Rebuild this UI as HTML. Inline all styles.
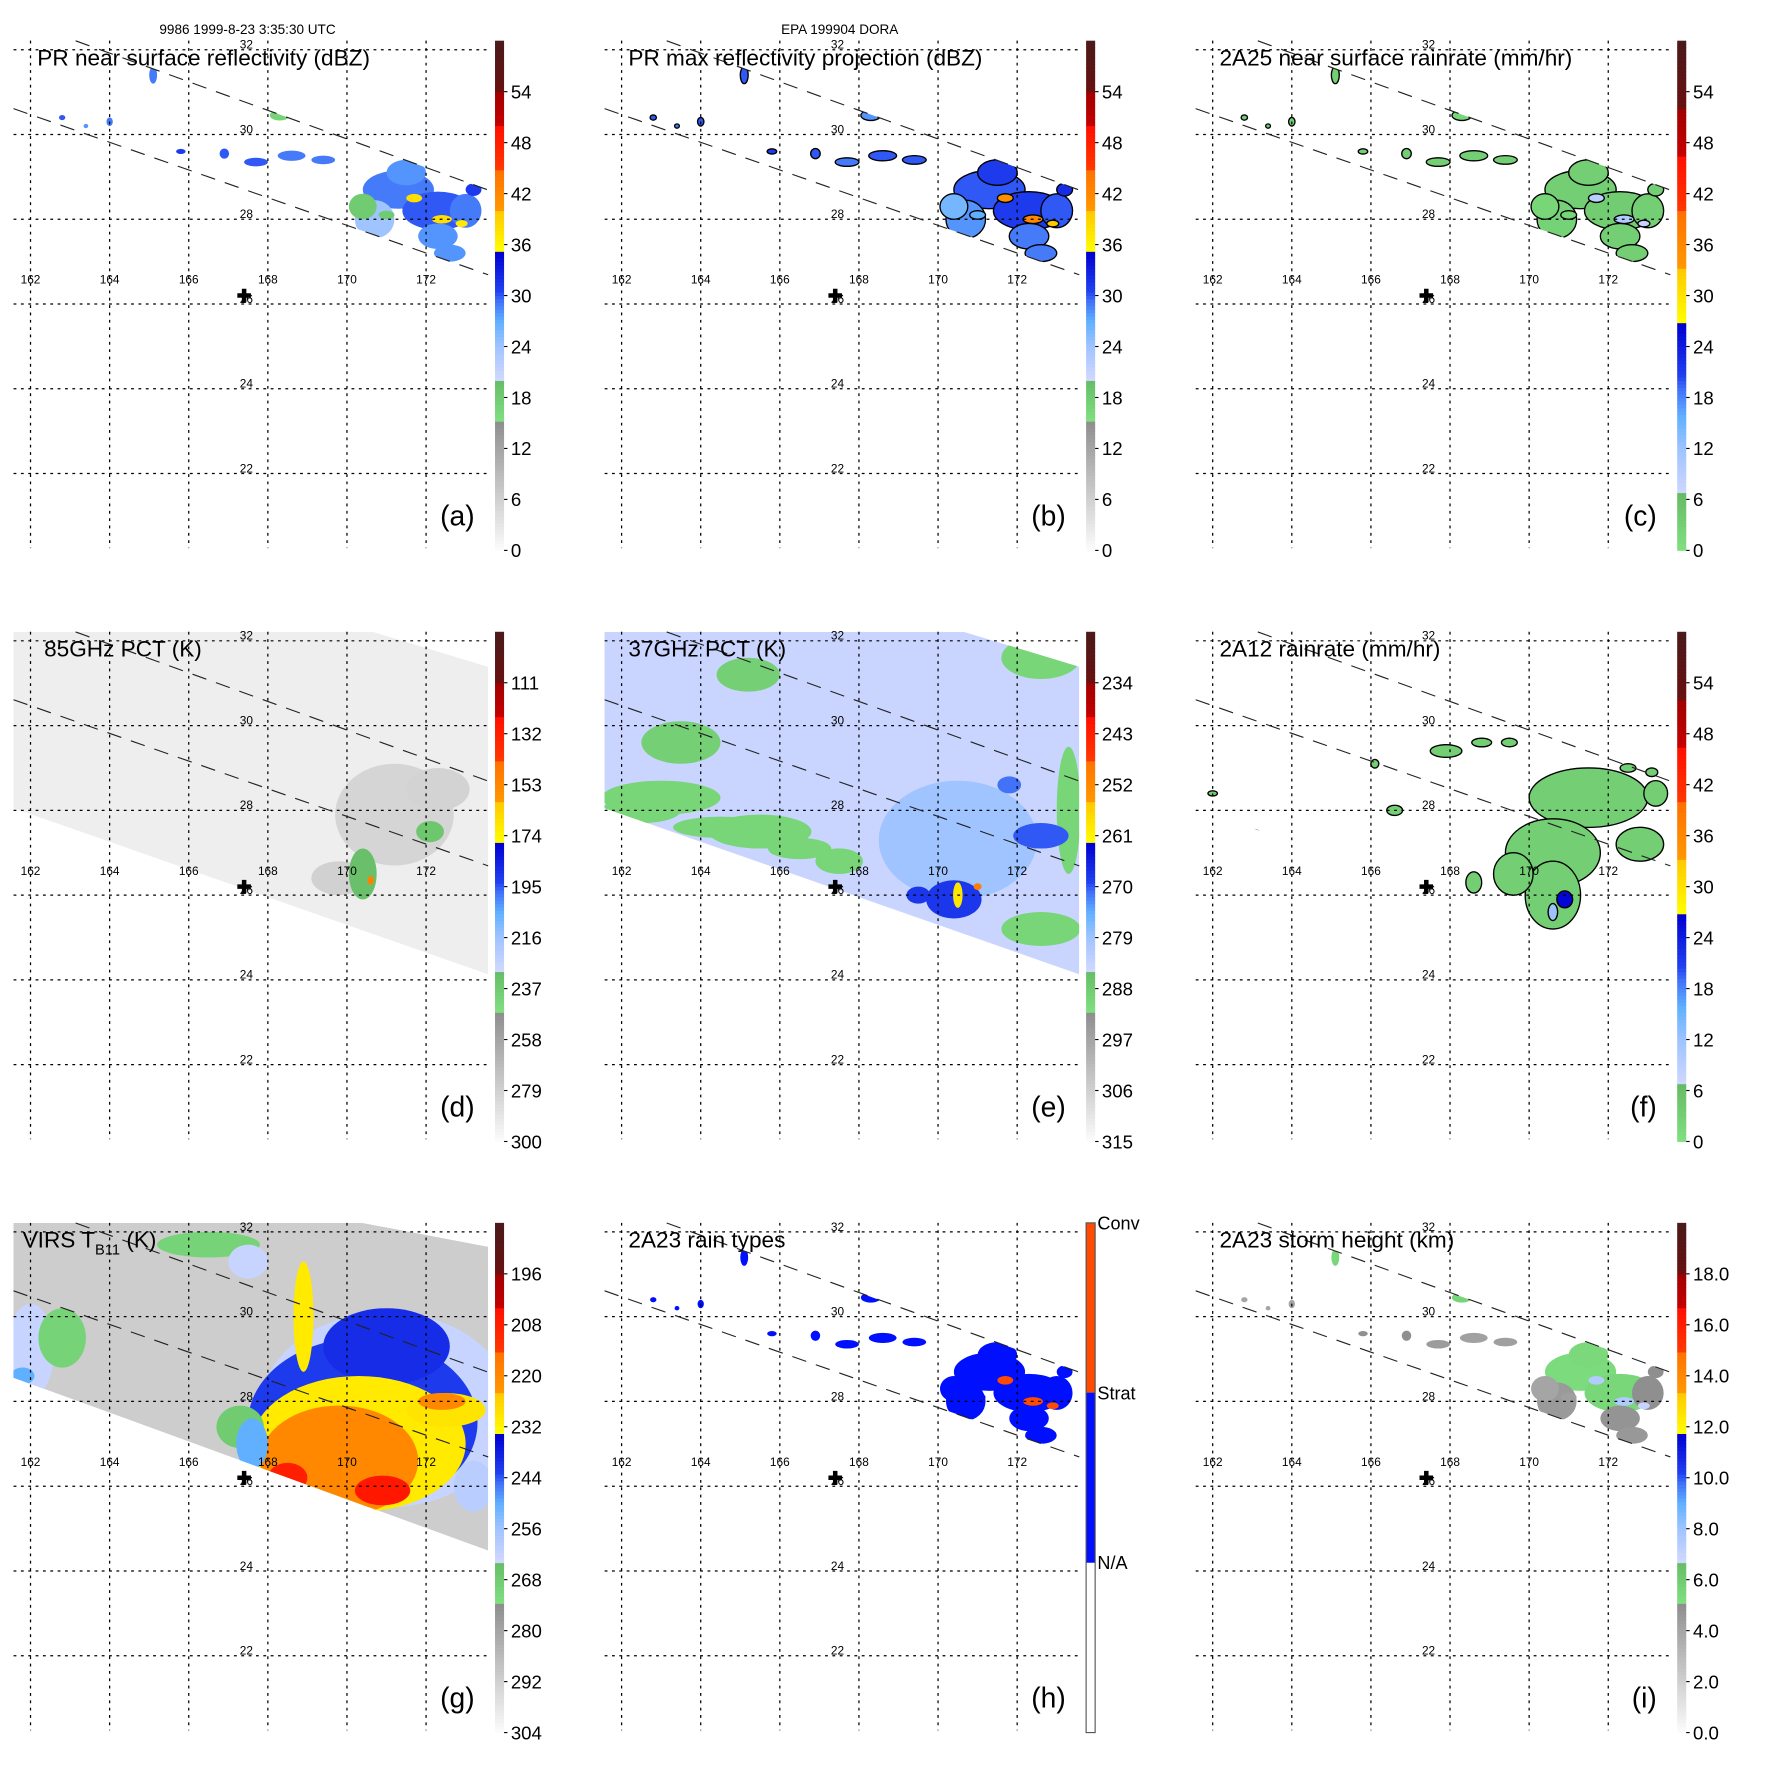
<!DOCTYPE html>
<html><head><meta charset="utf-8"><title>TRMM DORA 1999-8-23</title>
<style>
html,body{margin:0;padding:0;background:#fff;}
svg{display:block;font-family:"Liberation Sans",Arial,sans-serif;}
</style></head>
<body>
<svg id="fig" xmlns="http://www.w3.org/2000/svg" width="1771" height="1771" viewBox="0 0 1567 1567"></svg>
<script>
// ---------------- data ----------------
const lonTicks=[162,164,166,168,170,172];
const latTicks=[32,30,28,26,24,22];
const titles=["PR near surface reflectivity (dBZ)","PR max reflectivity projection (dBZ)","2A25 near surface rainrate (mm/hr)","85GHz PCT (K)","37GHz PCT (K)","2A12 rainrate (mm/hr)","VIRS T","2A23 rain types","2A23 storm height (km)"];
const letters=["(a)","(b)","(c)","(d)","(e)","(f)","(g)","(h)","(i)"];
const cbLabelsA=["54","48","42","36","30","24","18","12","6","0"];
const cbLabelsD=["111","132","153","174","195","216","237","258","279","300"];
const cbLabelsE=["234","243","252","261","270","279","288","297","306","315"];
const cbLabelsG=["196","208","220","232","244","256","268","280","292","304"];
const cbLabelsI=["18.0","16.0","14.0","12.0","10.0","8.0","6.0","4.0","2.0","0.0"];
const rainTypeLabels=["Conv","Strat","N/A"];
const centerLon=167.4, centerLat=26.2;

// PR swath edges
const prUpLon=[163.14,173.57], prUpLat=[32.21,28.69];
const prLoLon=[161.57,173.57], prLoLat=[30.61,26.69];
const prSwLon=[161.57,173.57,173.57,161.57], prSwLat=[32.74,28.69,26.69,30.61];
const tmiLon=[161.57,170.66,173.57,173.57,161.57], tmiLat=[32.21,32.21,31.39,24.13,28.05];
const virsLon=[161.57,170.4,173.57,173.57,161.57], virsLat=[32.21,32.21,31.65,24.48,28.56];

// PR rain cells (shared locations)
const prLon=[171.3,172.3,170.7,172.3,173.0,171.5,170.4,173.2,169.4,168.6,167.7,166.9,165.8,167.1,165.1,168.3,162.8,164.0,163.4,169.8,172.6,171.7,172.4,172.9,171.0];
const prLat=[28.7,28.2,28.0,27.6,28.2,29.1,28.3,28.7,29.4,29.5,29.35,29.55,29.6,31.15,31.4,30.45,30.4,30.3,30.2,30.1,27.2,28.5,28.0,27.9,28.1];
const prRx=[0.9,0.9,0.5,0.5,0.4,0.5,0.35,0.2,0.3,0.35,0.3,0.12,0.12,0.15,0.1,0.25,0.08,0.08,0.06,0.08,0.4,0.2,0.25,0.15,0.2];
const prRy=[0.45,0.45,0.45,0.3,0.4,0.3,0.3,0.15,0.1,0.12,0.1,0.12,0.06,0.08,0.2,0.12,0.06,0.1,0.05,0.05,0.2,0.1,0.1,0.08,0.1];
const aVal=[29,30,24,28,29,28,18,31,29,29,30,30,31,29,29,17,30,29,28,27,28,38,38,37,18];
const bVal=[30,31,28,29,30,31,26,32,30,30,29,30,31,30,30,28,30,30,29,29,29,41,42,40,27];
const cVal=[3,3.5,2.5,3,3,3,2,3,3,3,3,3,3,3,3,2,3,3,3,3,3,9,10,8,2];
const hType=[2,2,2,2,2,2,2,2,2,2,2,2,2,2,2,2,2,2,2,2,2,3,3,3,2];
const iVal=[5.3,5.5,4.5,4.8,5,5.4,4,5,4.3,4.2,4.4,5,5,5.2,5.5,5.6,4,4,4,4,4.6,7.5,7.6,7,4.3];

// 2A12 rain cells
const fLon=[171.5,170.6,170.6,172.8,169.6,173.2,168.6,167.9,168.8,169.5,163.0,166.6,166.1,172.5,173.1,162.0,170.9,170.6];
const fLat=[28.3,27.0,26.0,27.2,26.5,28.4,26.3,29.4,29.6,29.6,27.4,28.0,29.1,29.0,28.9,28.4,25.9,25.6];
const fRx=[1.5,1.2,0.7,0.6,0.5,0.3,0.2,0.4,0.25,0.2,0.25,0.2,0.1,0.2,0.15,0.12,0.2,0.12];
const fRy=[0.7,0.8,0.8,0.4,0.5,0.3,0.25,0.15,0.1,0.1,0.15,0.12,0.1,0.1,0.1,0.06,0.2,0.2];
const fVal=[3,3,3,3,3,3,3,3,3,3,3,3,3,3,3,3,26,12];

// 85 GHz PCT cells
const dBg=293;
const dLon=[171.2,169.8,172.3,172.1,170.4,170.6];
const dLat=[27.9,26.4,28.5,27.5,26.5,26.35];
const dRx=[1.5,0.7,0.8,0.35,0.35,0.08];
const dRy=[1.2,0.4,0.5,0.25,0.6,0.1];
const dVal=[281,279,280,235,232,150];

// 37 GHz PCT cells
const eBg=284;
const eLon=[163.0,165.5,167.5,163.5,172.6,173.3,172.6,170.5,170.4,169.5,172.6,171.8,170.5,171.0,165.2,162.5,164.5,166.5];
const eLat=[28.3,27.5,26.8,29.6,31.6,28.0,25.2,27.3,25.9,26.0,27.4,28.6,26.0,26.2,31.2,28.0,27.6,27.1];
const eRx=[1.5,1.3,0.6,1.0,1.0,0.3,1.0,2.0,0.7,0.3,0.7,0.3,0.12,0.1,0.8,1.0,1.2,0.8];
const eRy=[0.4,0.4,0.3,0.5,0.5,1.5,0.4,1.4,0.45,0.2,0.3,0.2,0.3,0.08,0.4,0.3,0.25,0.25];
const eVal=[290,290,290,289,290,290,290,279,268,268,270,271,259,250,289,290,290,290];

// VIRS TB11 cells
const gBg=291;
const gLon=[171.0,170.4,171.0,170.3,169.8,170.9,168.5,168.9,172.5,172.4,162.0,162.8,161.8,166.5,167.5,167.3,167.6,173.2];
const gLat=[27.8,27.5,29.3,27.0,26.6,25.9,26.2,30.0,27.8,28.0,29.2,29.5,28.6,31.7,31.3,27.4,27.0,26.0];
const gRx=[3.2,2.9,1.6,2.7,2.0,0.7,0.5,0.25,1.0,0.6,0.6,0.6,0.3,1.3,0.5,0.6,0.4,0.5];
const gRy=[2.3,2.0,0.9,1.6,1.3,0.35,0.35,1.3,0.4,0.2,1.1,0.7,0.2,0.3,0.4,0.5,0.6,0.6];
const gVal=[262,242,240,230,220,206,208,230,229,220,262,270,250,270,262,268,250,260];

// ---------------- rendering ----------------
const NS='http://www.w3.org/2000/svg';
const svg=document.getElementById('fig');
function mk(tag,parent){const e=document.createElementNS(NS,tag);(parent||svg).appendChild(e);return e;}
function sa(e,o){for(const k in o)e.setAttribute(k,o[k]);return e;}
const PX=[0,523,1046], PY=[0,523,1046];
function X(c,lon){return PX[c]+27+(lon-162)*35;}
function Y(r,lat){return PY[r]+44+(32-lat)*37.5;}
function CBY(r,f){return PY[r]+487-f*451;}

const stops=[[0,'#fcfcfc'],[0.253,'#8e8e8e'],[0.2531,'#80e080'],[0.336,'#66bb66'],[0.3361,'#d0d8ff'],[0.40,'#a0c4ff'],[0.45,'#60b0ff'],[0.49,'#4070f8'],[0.51,'#2040f0'],[0.585,'#0000d0'],[0.5851,'#ffff00'],[0.667,'#ffc800'],[0.6671,'#ff9800'],[0.749,'#ff7000'],[0.7491,'#ff3800'],[0.83,'#ff1000'],[0.8301,'#c80000'],[0.9,'#a00000'],[0.9001,'#6a1010'],[1,'#4a1a1a']];
function hx(h){return [parseInt(h.substr(1,2),16),parseInt(h.substr(3,2),16),parseInt(h.substr(5,2),16)];}
function palA(f){f=Math.max(0,Math.min(1,f));for(let i=1;i<stops.length;i++){if(f<=stops[i][0]){const a=stops[i-1],b=stops[i];const t=(f-a[0])/(b[0]-a[0]||1);const ca=hx(a[1]),cb=hx(b[1]);return 'rgb('+ca.map((v,j)=>Math.round(v+(cb[j]-v)*t)).join(',')+')';}}return stops[stops.length-1][1];}
function palC(f){return palA(0.253+0.747*Math.max(0,Math.min(1,f)));}
const typeColor={1:'#ffffff',2:'#0010ff',3:'#ff4a00'};

const panels=[
 {name:'pr-near-surface-reflectivity',frac:v=>v/60,pal:palA,labels:cbLabelsA,clip:'pr'},
 {name:'pr-max-reflectivity',frac:v=>v/60,pal:palA,labels:cbLabelsA,clip:'pr'},
 {name:'2a25-rainrate',frac:v=>v/60,pal:palC,labels:cbLabelsA,clip:'pr'},
 {name:'85ghz-pct',frac:v=>(300-v)/210,pal:palA,labels:cbLabelsD,clip:'tmi'},
 {name:'37ghz-pct',frac:v=>(315-v)/90,pal:palA,labels:cbLabelsE,clip:'tmi'},
 {name:'2a12-rainrate',frac:v=>v/60,pal:palC,labels:cbLabelsA,clip:'tmi'},
 {name:'virs-tb11',frac:v=>(304-v)/120,pal:palA,labels:cbLabelsG,clip:'virs'},
 {name:'2a23-rain-types',frac:v=>v,pal:palA,labels:null,clip:'pr'},
 {name:'2a23-storm-height',frac:v=>v/20,pal:palA,labels:cbLabelsI,clip:'pr'}
];

const defs=mk('defs');
function polyPts(c,r,lons,lats){return lons.map((l,i)=>X(c,l).toFixed(1)+','+Y(r,lats[i]).toFixed(1)).join(' ');}

let t=mk('text');sa(t,{x:219,y:30,'font-size':12,'text-anchor':'middle',fill:'#000'});t.textContent='9986 1999-8-23 3:35:30 UTC';


t=mk('text');sa(t,{x:743,y:30,'font-size':12,'text-anchor':'middle',fill:'#000'});t.textContent='EPA 199904 DORA';



function drawCells(g,c,r,P,lons,lats,rxs,rys,vals,stroke,colorFn){
  for(let i=0;i<lons.length;i++){
    const e=mk('ellipse',g);
    sa(e,{cx:X(c,lons[i]).toFixed(1),cy:Y(r,lats[i]).toFixed(1),rx:(rxs[i]*35).toFixed(1),ry:(rys[i]*37.5).toFixed(1),fill:colorFn?colorFn(vals[i]):P.pal(P.frac(vals[i]))});
    if(stroke)sa(e,{stroke:'#000','stroke-width':1.2});
    
    
  }
}

panels.forEach((P,k)=>{
  const c=k%3, r=Math.floor(k/3);
  const g=mk('g');
  
  
  const cp=mk('clipPath',defs);cp.setAttribute('id','clip'+k);
  const cpp=mk('polygon',cp);
  if(P.clip==='pr')cpp.setAttribute('points',polyPts(c,r,prSwLon,prSwLat));
  else if(P.clip==='tmi')cpp.setAttribute('points',polyPts(c,r,tmiLon,tmiLat));
  else cpp.setAttribute('points',polyPts(c,r,virsLon,virsLat));
  const data=mk('g',g);data.setAttribute('clip-path','url(#clip'+k+')');
  
  
  if(k===0)drawCells(data,c,r,P,prLon,prLat,prRx,prRy,aVal,false);
  if(k===1)drawCells(data,c,r,P,prLon,prLat,prRx,prRy,bVal,true);
  if(k===2)drawCells(data,c,r,P,prLon,prLat,prRx,prRy,cVal,true);
  if(k===3){const bg=mk('polygon',data);sa(bg,{points:polyPts(c,r,tmiLon,tmiLat),fill:P.pal(P.frac(dBg))});
    
    
    drawCells(data,c,r,P,dLon,dLat,dRx,dRy,dVal,false);}
  if(k===4){const bg=mk('polygon',data);sa(bg,{points:polyPts(c,r,tmiLon,tmiLat),fill:P.pal(P.frac(eBg))});
    
    
    drawCells(data,c,r,P,eLon,eLat,eRx,eRy,eVal,false);}
  if(k===5)drawCells(data,c,r,P,fLon,fLat,fRx,fRy,fVal,true);
  if(k===6){const bg=mk('polygon',data);sa(bg,{points:polyPts(c,r,virsLon,virsLat),fill:P.pal(P.frac(gBg))});
    
    
    drawCells(data,c,r,P,gLon,gLat,gRx,gRy,gVal,false);}
  if(k===7)drawCells(data,c,r,P,prLon,prLat,prRx,prRy,hType,false,v=>typeColor[v]);
  if(k===8)drawCells(data,c,r,P,prLon,prLat,prRx,prRy,iVal,false);

  lonTicks.forEach(lon=>{const l=mk('line',g);sa(l,{x1:X(c,lon),x2:X(c,lon),y1:PY[r]+36,y2:PY[r]+485,stroke:'#000','stroke-width':1.1,'stroke-dasharray':'2.5 4'});
    
    
    const tx=mk('text',g);sa(tx,{x:X(c,lon),y:PY[r]+251,'font-size':10.5,'text-anchor':'middle'});tx.textContent=lon;
    
    });
  latTicks.forEach(lat=>{const l=mk('line',g);sa(l,{x1:PX[c]+12,x2:PX[c]+432,y1:Y(r,lat),y2:Y(r,lat),stroke:'#000','stroke-width':1.1,'stroke-dasharray':'2.5 4'});
    
    
    const tx=mk('text',g);sa(tx,{x:PX[c]+218,y:Y(r,lat)-1,'font-size':10.5,'text-anchor':'middle'});tx.textContent=lat;
    
    });
  [[prUpLon,prUpLat],[prLoLon,prLoLat]].forEach(e=>{const l=mk('line',g);
    sa(l,{x1:X(c,e[0][0]),y1:Y(r,e[1][0]),x2:X(c,e[0][1]),y2:Y(r,e[1][1]),stroke:'#222','stroke-width':1,'stroke-dasharray':'13 9'});
    
    });
  const cx=X(c,centerLon), cy=Y(r,centerLat);
  const cr=mk('path',g);sa(cr,{d:`M${cx-6},${cy-2}h12v4h-12z M${cx-2},${cy-6}h4v12h-4z`,fill:'#000'});
  
  
  const tt=mk('text',g);sa(tt,{x:PX[c]+(k===3?39:k===6?20:33),y:PY[r]+58,'font-size':20,fill:'#000'});
  tt.textContent=titles[k];
  if(k===6){const sub=mk('tspan',tt);sa(sub,{dy:6,'font-size':13});sub.textContent='B11';const rest=mk('tspan',tt);sa(rest,{dy:-6});rest.textContent=' (K)';}
  
  
  const lt=mk('text',g);sa(lt,{x:PX[c]+420,y:PY[r]+465,'font-size':25,'text-anchor':'end'});lt.textContent=letters[k];
  
  
  const cb=mk('g',g);
  
  
  const bx=PX[c]+438;
  if(k===7){
    const segs=[[1,0.667,3],[0.667,0.333,2],[0.333,0,1]];
    segs.forEach(s=>{const rc=mk('rect',cb);sa(rc,{x:bx,y:CBY(r,s[0]),width:8,height:CBY(r,s[1])-CBY(r,s[0]),fill:typeColor[s[2]]});
      
      });
    const ol=mk('rect',cb);sa(ol,{x:bx,y:CBY(r,1),width:8,height:451,fill:'none',stroke:'#555','stroke-width':1});
    rainTypeLabels.forEach((s,i)=>{const tx=mk('text',cb);sa(tx,{x:bx+10,y:CBY(r,1-i*0.333)+6,'font-size':16});tx.textContent=s;
      
      });
  } else {
    const N=150;
    for(let i=0;i<N;i++){const f0=i/N,f1=(i+1)/N;const rc=mk('rect',cb);
      sa(rc,{x:bx,y:CBY(r,f1).toFixed(2),width:8,height:(451/N+0.4).toFixed(2),fill:P.pal===palC?palC((f0+f1)/2):palA((f0+f1)/2)});}
    P.labels.forEach((s,i)=>{const f=0.9-i*0.1;const y=CBY(r,f);
      const tk=mk('line',cb);sa(tk,{x1:bx+8,x2:bx+11,y1:y,y2:y,stroke:'#000','stroke-width':1});
      const tx=mk('text',cb);sa(tx,{x:bx+14,y:y+6,'font-size':16.5});tx.textContent=s;
      
      });
  }
});
</script>
</body></html>
